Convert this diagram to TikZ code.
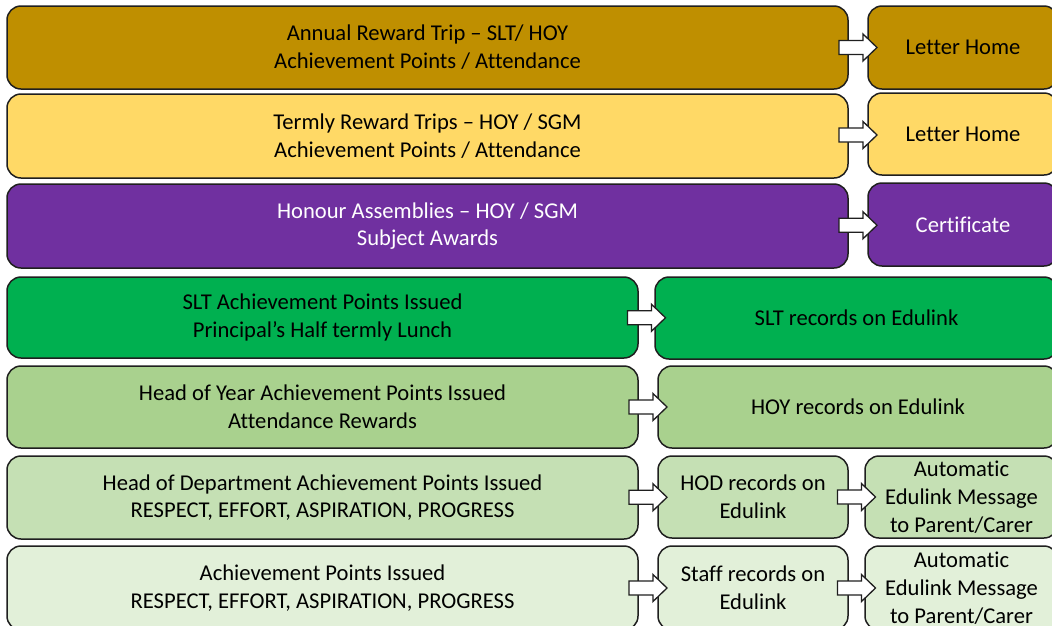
\documentclass[tikz,border=0pt]{standalone}
\usepackage{fontspec}
\setmainfont{Carlito}[Ligatures={NoCommon}]
\usetikzlibrary{calc}
\definecolor{cgold}{HTML}{BF8F00}
\definecolor{cyel}{HTML}{FFD966}
\definecolor{cpur}{HTML}{7030A0}
\definecolor{cgrn}{HTML}{00B050}
\definecolor{cgrn2}{HTML}{A9D18E}
\definecolor{cgrn3}{HTML}{C5E0B4}
\definecolor{cgrn4}{HTML}{E2F0D9}
\definecolor{cline}{HTML}{1F1F1F}
\tikzset{
  x=1pt, y=-1pt,
  box/.style={draw=cline, line width=1.5pt, rounded corners=14pt, align=center,
    inner sep=0pt, font=\fontsize{22.6}{27.8}\selectfont, text=black},
  pics/barrow/.style={code={
    \draw[fill=white, draw=cline, line width=1.3pt, line join=miter]
      (-19,-7) -- (5,-7) -- (5,-13.5) -- (19,0) -- (5,13.5) -- (5,7) -- (-19,7) -- cycle;}}
}
\begin{document}
\begin{tikzpicture}
\useasboundingbox (0,0) rectangle (1052,625);
% row 1
\node[box, fill=cgold, minimum width=841pt, minimum height=83pt] (l1) at (427.5,47.5)
  {Annual Reward Trip – SLT/ HOY\\Achievement Points / Attendance};
\node[box, fill=cgold, minimum width=190pt, minimum height=83pt] (r1) at (963,47.5) {Letter Home};
% row 2
\node[box, fill=cyel, minimum width=841pt, minimum height=84pt] (l2) at (427.5,136)
  {Termly Reward Trips – HOY / SGM\\Achievement Points / Attendance};
\node[box, fill=cyel, minimum width=190pt, minimum height=82pt] (r2) at (963,134) {Letter Home};
% row 3
\node[box, fill=cpur, text=white, minimum width=841pt, minimum height=84pt] (l3) at (427.5,226)
  {Honour Assemblies – HOY / SGM\\Subject Awards};
\node[box, fill=cpur, text=white, minimum width=190pt, minimum height=83pt] (r3) at (963,224.5) {Certificate};
% row 4
\node[box, fill=cgrn, minimum width=631pt, minimum height=81pt] (l4) at (322.5,317.5)
  {SLT Achievement Points Issued\\Principal’s Half termly Lunch};
\node[box, fill=cgrn, minimum width=403pt, minimum height=82pt] (r4) at (856.5,318) {SLT records on Edulink};
% row 5
\node[box, fill=cgrn2, minimum width=631pt, minimum height=82pt] (l5) at (322.5,407)
  {Head of Year Achievement Points Issued\\Attendance Rewards};
\node[box, fill=cgrn2, minimum width=400pt, minimum height=82pt] (r5) at (858,407) {HOY records on Edulink};
% row 6
\node[box, fill=cgrn3, minimum width=631pt, minimum height=83pt] (l6) at (322.5,497.5)
  {Head of Department Achievement Points Issued\\RESPECT, EFFORT, ASPIRATION, PROGRESS};
\node[box, fill=cgrn3, minimum width=190pt, minimum height=82pt] (m6) at (753,497) {HOD records on\\Edulink};
\node[box, fill=cgrn3, minimum width=193pt, minimum height=82pt] (r6) at (961.5,497) {Automatic\\Edulink Message\\to Parent/Carer};
% row 7
\node[box, fill=cgrn4, minimum width=631pt, minimum height=84pt] (l7) at (322.5,588)
  {Achievement Points Issued\\RESPECT, EFFORT, ASPIRATION, PROGRESS};
\node[box, fill=cgrn4, minimum width=190pt, minimum height=84pt] (m7) at (753,588) {Staff records on\\Edulink};
\node[box, fill=cgrn4, minimum width=193pt, minimum height=84pt] (r7) at (961.5,588) {Automatic\\Edulink Message\\to Parent/Carer};
% arrows
\pic at ($(l1.east)!0.5!(r1.west)$) {barrow};
\pic at ($(l2.east)!0.5!(r2.west)$) {barrow};
\pic at ($(l3.east)!0.5!(r3.west)$) {barrow};
\pic at ($(l4.east)!0.5!(r4.west)$) {barrow};
\pic at ($(l5.east)!0.5!(r5.west)$) {barrow};
\pic at ($(l6.east)!0.5!(m6.west)$) {barrow};
\pic at ($(m6.east)!0.5!(r6.west)$) {barrow};
\pic at ($(l7.east)!0.5!(m7.west)$) {barrow};
\pic at ($(m7.east)!0.5!(r7.west)$) {barrow};
\end{tikzpicture}
\end{document}
